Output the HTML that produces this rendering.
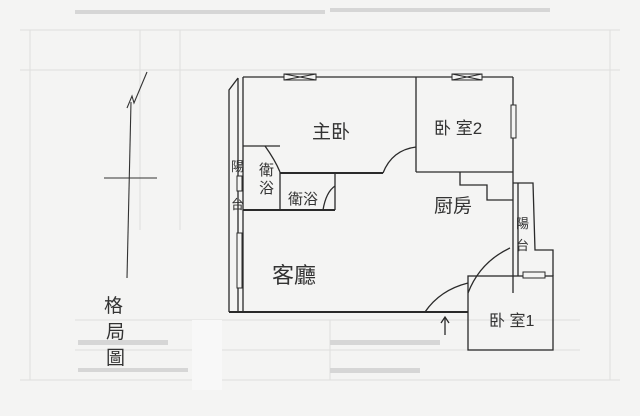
<!DOCTYPE html>
<html><head><meta charset="utf-8"><style>
html,body{margin:0;padding:0;background:#f4f4f3;}
svg{display:block}
text{font-family:"Liberation Sans","Noto Sans CJK TC",sans-serif;fill:#333;}
</style></head><body>
<svg width="640" height="416" viewBox="0 0 640 416" xmlns="http://www.w3.org/2000/svg">
<rect width="640" height="416" fill="#f4f4f3"/>
<g stroke="#dedede" stroke-width="1" fill="none">
<line x1="20" y1="30" x2="620" y2="30"/>
<line x1="20" y1="70" x2="620" y2="70"/>
<line x1="20" y1="380" x2="620" y2="380"/>
<line x1="30" y1="30" x2="30" y2="380"/>
<line x1="610" y1="30" x2="610" y2="380"/>
<line x1="140" y1="30" x2="140" y2="230"/>
<line x1="180" y1="30" x2="180" y2="230"/>
<line x1="75" y1="320" x2="580" y2="320"/>
<line x1="75" y1="350" x2="580" y2="350"/>
<line x1="330" y1="320" x2="330" y2="380"/>
</g>
<rect x="192" y="320" width="30" height="70" fill="#f8f8f8"/>
<g fill="#d6d6d6">
<rect x="75" y="10" width="250" height="4"/>
<rect x="330" y="8" width="220" height="4"/>
<rect x="78" y="340" width="90" height="5"/>
<rect x="330" y="340" width="110" height="5"/>
<rect x="330" y="368" width="90" height="5"/>
<rect x="78" y="368" width="110" height="4"/>
</g>
<g stroke="#333" stroke-width="1.1" fill="none">
<line x1="131" y1="102" x2="127" y2="278"/>
<line x1="104" y1="178" x2="157" y2="178"/>
<polyline points="127,108 132,96 134,103 147,72"/>
</g>
<g stroke="#2a2a2a" stroke-width="1.3" fill="none">
<polyline points="229,312 229,90 238,78"/>
<line x1="243" y1="77" x2="243" y2="312"/>
<line x1="238" y1="78" x2="238" y2="312"/>
<line x1="229" y1="312" x2="468" y2="312" stroke-width="2"/>
<line x1="243" y1="77" x2="513" y2="77"/>
<line x1="416" y1="77" x2="416" y2="172"/>
<line x1="513" y1="77" x2="513" y2="293"/>
<line x1="416" y1="172" x2="513" y2="172"/>
<line x1="280" y1="173" x2="383" y2="173" stroke-width="2"/>
<path d="M383,173 Q392,150 416,147"/>
<line x1="243" y1="146" x2="280" y2="146"/>
<path d="M265,146 Q275,160 280,172"/>
<line x1="280" y1="172" x2="280" y2="210"/>
<line x1="335" y1="173" x2="335" y2="210"/>
<path d="M323,210 Q326,192 335,186"/>
<line x1="243" y1="210" x2="335" y2="210" stroke-width="2"/>
<polyline points="460,172 460,185 487,185 487,200 513,200"/>
<polyline points="513,183 533,183 535,250 553,250 553,276"/>
<line x1="518" y1="183" x2="518" y2="276"/>
<rect x="468" y="276" width="85" height="74"/>
<path d="M468,293 Q480,262 510,248"/>
<path d="M425,312 Q440,290 468,283"/>
<line x1="445" y1="335" x2="445" y2="318"/>
<polyline points="441,323 445,317 449,323"/>
</g>
<g stroke="#2a2a2a" stroke-width="1" fill="#f4f4f3">
<rect x="284" y="74" width="32" height="6"/>
<line x1="284" y1="74" x2="316" y2="80"/><line x1="284" y1="80" x2="316" y2="74"/>
<rect x="452" y="74" width="30" height="6"/>
<line x1="452" y1="74" x2="482" y2="80"/><line x1="452" y1="80" x2="482" y2="74"/>
<rect x="511" y="105" width="5" height="33"/>
<rect x="523" y="272" width="22" height="6"/>
<rect x="237" y="176" width="5" height="15"/>
<rect x="237" y="233" width="5" height="55"/>
</g>
<g font-size="19">
<text x="312" y="138">主卧</text>
<text x="434" y="134" font-size="17">卧 室2</text>
<text x="288" y="204" font-size="15">衛浴</text>
<text x="434" y="212">厨房</text>
<text x="272" y="283" font-size="22">客廳</text>
<text x="489" y="326" font-size="16">卧 室1</text>
<text x="259" y="175" font-size="15">衛</text>
<text x="259" y="193" font-size="15">浴</text>
<text x="231" y="171" font-size="13">陽</text>
<text x="231" y="209" font-size="13">台</text>
<text x="516" y="228" font-size="13">陽</text>
<text x="516" y="250" font-size="13">台</text>
<text x="104" y="312" font-size="19">格</text>
<text x="106" y="338" font-size="19">局</text>
<text x="106" y="364" font-size="19">圖</text>
</g>
</svg>
</body></html>
